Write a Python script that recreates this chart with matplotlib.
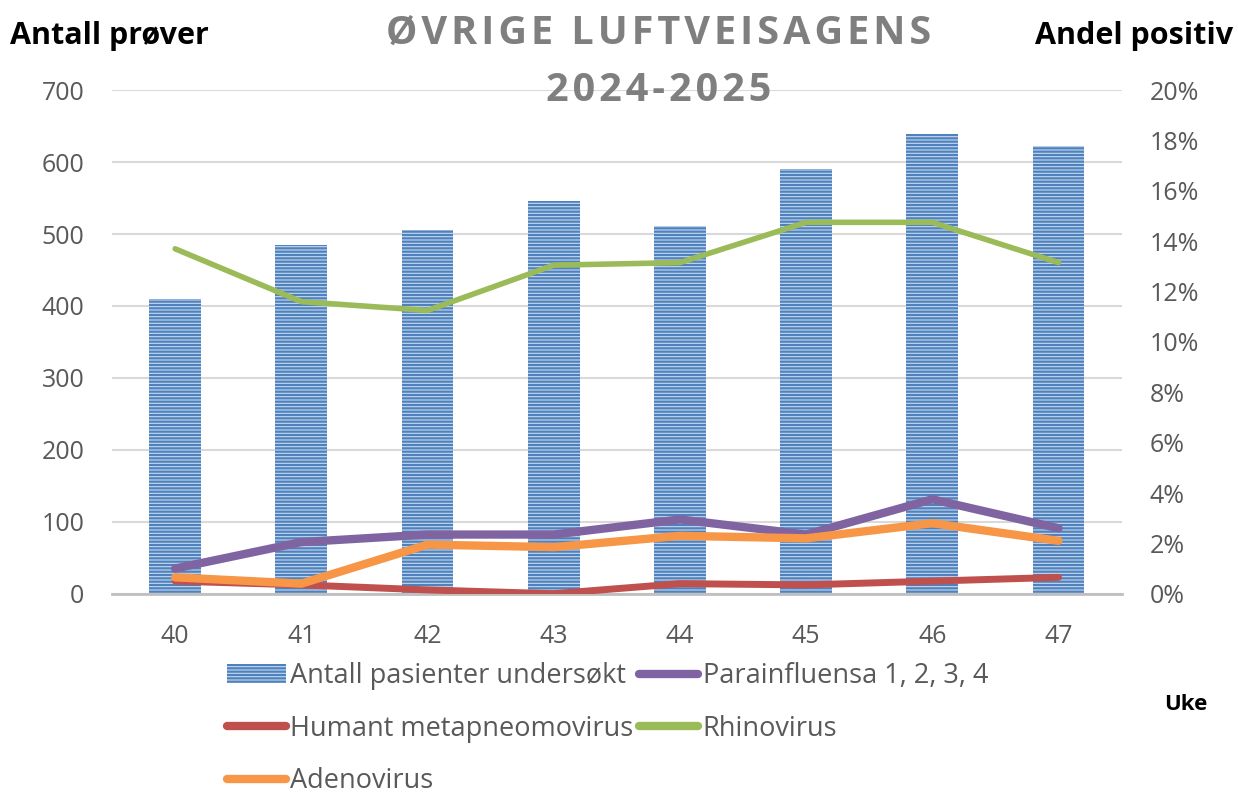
import matplotlib.pyplot as plt
from matplotlib.lines import Line2D

plt.rcParams["font.family"] = ["Open Sans", "DejaVu Sans"]
plt.rcParams["hatch.linewidth"] = 1.6

# data
uker = ["40", "41", "42", "43", "44", "45", "46", "47"]
antall = [410, 485, 506, 546, 511, 590, 639, 622]
parainfluensa = [1.0, 2.05, 2.35, 2.35, 2.95, 2.35, 3.75, 2.6]
hmpv = [0.5, 0.35, 0.15, 0.0, 0.4, 0.35, 0.5, 0.65]
rhinovirus = [13.7, 11.6, 11.25, 13.05, 13.15, 14.75, 14.75, 13.15]
adenovirus = [0.65, 0.4, 1.95, 1.85, 2.3, 2.2, 2.8, 2.1]

grey = "#595959"

fig = plt.figure(figsize=(12.38, 7.98), dpi=100)
ax = fig.add_axes([0.0905, 0.256, 0.8155, 0.631])
ax2 = ax.twinx()

x = list(range(len(uker)))
bars = ax.bar(x, antall, width=0.41, color="#c5d9ef", edgecolor="#4f81bd",
              hatch="-----", linewidth=0, zorder=2)
ax.set_ylim(0, 700)
ax.set_xlim(-0.5, 7.5)
ax.set_yticks(range(0, 701, 100))
ax.grid(axis="y", color="#d9d9d9", linewidth=1.5, zorder=0)
ax.set_axisbelow(True)
ax.set_xticks(x)
ax.set_xticklabels(uker)

ax2.plot(x, parainfluensa, color="#8064a2", lw=6, solid_capstyle="round")
ax2.plot(x, hmpv, color="#c0504d", lw=5, solid_capstyle="round")
ax2.plot(x, rhinovirus, color="#9bbb59", lw=4, solid_capstyle="round")
ax2.plot(x, adenovirus, color="#f79646", lw=6, solid_capstyle="round")
ax2.set_ylim(0, 20)
ax2.set_yticks(range(0, 21, 2))
ax2.set_yticklabels([f"{v}%" for v in range(0, 21, 2)])

for a in (ax, ax2):
    for s in a.spines.values():
        s.set_visible(False)
    a.tick_params(length=0, labelsize=18, colors=grey)
ax.tick_params(axis="y", pad=20)
ax2.tick_params(axis="y", pad=20)
ax.spines["bottom"].set_visible(True)
ax.spines["bottom"].set_color("#bfbfbf")
ax.spines["bottom"].set_linewidth(2)
ax.tick_params(axis="x", pad=22)

def spaced(s):
    return "\u200a".join(s)

fig.text(0.532, 0.958, spaced("ØVRIGE LUFTVEISAGENS"), ha="center", va="center",
         fontsize=28.5, fontweight="bold", color="#7f7f7f")
fig.text(0.532, 0.887, spaced("2024-2025"), ha="center", va="center",
         fontsize=28.5, fontweight="bold", color="#7f7f7f")
fig.text(0.008, 0.955, "Antall prøver", ha="left", va="center",
         fontsize=22, fontweight="bold", color="black")
fig.text(0.996, 0.955, "Andel positiv", ha="right", va="center",
         fontsize=22, fontweight="bold", color="black")
fig.text(0.975, 0.117, "Uke", ha="right", va="center",
         fontsize=16, fontweight="bold", color="black")

handles = [
    bars,
    Line2D([], [], color="#c0504d", lw=6, solid_capstyle="round"),
    Line2D([], [], color="#f79646", lw=6, solid_capstyle="round"),
    Line2D([], [], color="#8064a2", lw=6, solid_capstyle="round"),
    Line2D([], [], color="#9bbb59", lw=6, solid_capstyle="round"),
]
labels = ["Antall pasienter undersøkt", "Humant metapneomovirus", "Adenovirus",
          "Parainfluensa 1, 2, 3, 4", "Rhinovirus"]
leg = fig.legend(handles, labels, ncol=2, loc="upper left",
                 bbox_to_anchor=(0.183, 0.17), frameon=False,
                 fontsize=19.5, labelcolor=grey, handlelength=2.2,
                 handletextpad=0.15, columnspacing=0.2, labelspacing=0.9,
                 borderaxespad=0, borderpad=0)

fig.savefig("out.png", dpi=100)
